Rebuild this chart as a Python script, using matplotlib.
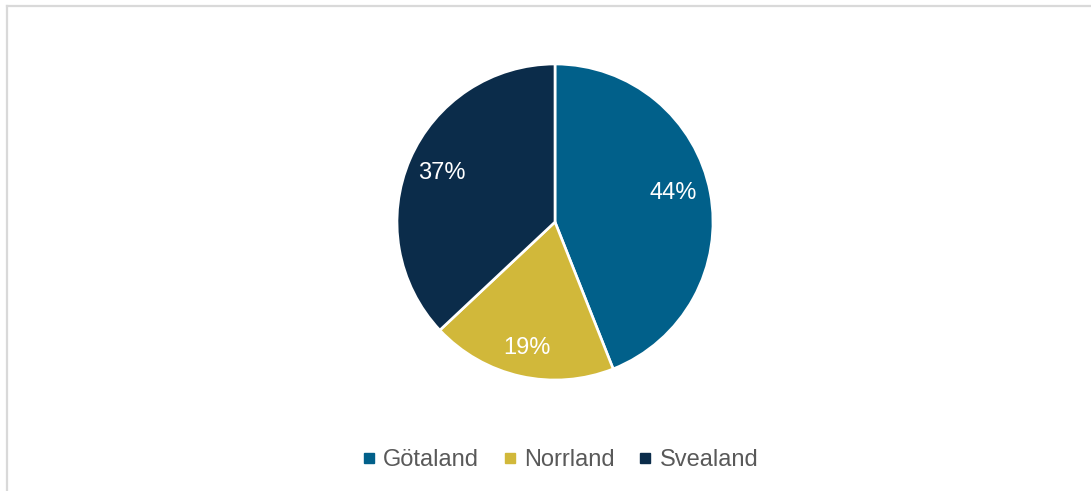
import matplotlib
matplotlib.use("Agg")
import numpy as np
import matplotlib.pyplot as plt
from matplotlib.lines import Line2D

regions = ["Götaland", "Norrland", "Svealand"]
shares = [44, 19, 37]
colors = ["#01608A", "#D1B83A", "#0B2C4A"]
label_dist = [0.77, 0.82, 0.78]
label_turn = [3, 0, 0]

plt.rcParams["font.family"] = ["Liberation Sans", "DejaVu Sans"]

W, H = 1091, 491
fig = plt.figure(figsize=(W / 100, H / 100), dpi=100)

# light grey frame (top and left edges visible)
fig.add_artist(Line2D([6.5 / W, 6.5 / W], [0, 1 - 5.5 / H], color="#D9D9D9",
                      linewidth=1.6, transform=fig.transFigure))
fig.add_artist(Line2D([6.5 / W, 1], [1 - 5.5 / H, 1 - 5.5 / H], color="#D9D9D9",
                      linewidth=1.6, transform=fig.transFigure))

# pie axes: centre (555, 222) px, radius 158 px
cx, cy, r = 555, 222, 158
ax = fig.add_axes([(cx - r) / W, (H - cy - r) / H, 2 * r / W, 2 * r / H])
wedges, texts, autotexts = ax.pie(
    shares, colors=colors, startangle=90, counterclock=False,
    autopct=lambda p: f"{p:.0f}%",
    wedgeprops=dict(edgecolor="white", linewidth=1.9),
    textprops=dict(color="white", fontsize=17),
)
# place the percentage labels along each wedge's mid angle
for w, t, d, turn in zip(wedges, autotexts, label_dist, label_turn):
    a = np.deg2rad((w.theta1 + w.theta2) / 2 + turn)
    t.set_position((d * np.cos(a), d * np.sin(a)))
ax.set_xlim(-1, 1)
ax.set_ylim(-1, 1)
ax.set_axis_off()

handles = [Line2D([], [], marker="s", linestyle="none", markersize=6.5,
                  markerfacecolor=c, markeredgecolor=c) for c in colors]
fig.legend(handles, regions, loc="center", bbox_to_anchor=(560 / W, 1 - 460 / H),
           ncol=3, frameon=False, fontsize=17, labelcolor="#595959",
           handlelength=0.6, handletextpad=0.3, columnspacing=1.0)

fig.savefig("out.png", dpi=100, facecolor="white")
